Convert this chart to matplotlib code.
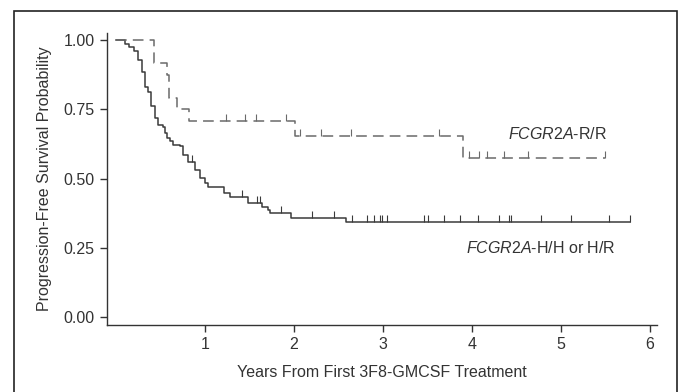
import matplotlib
matplotlib.use("Agg")
import matplotlib.pyplot as plt
from matplotlib.patches import Rectangle

plt.rcParams['font.family'] = ['Liberation Sans', 'DejaVu Sans']
plt.rcParams['mathtext.fontset'] = 'custom'
plt.rcParams['mathtext.rm'] = 'Liberation Sans'
plt.rcParams['mathtext.it'] = 'Liberation Sans:italic'

# FCGR2A-H/H or H/R (solid) : event times (years) and survival after each drop
hh_times = [0.0, 0.10, 0.15, 0.20, 0.25, 0.29, 0.33, 0.36, 0.40, 0.44, 0.47, 0.53, 0.55,
            0.58, 0.61, 0.64, 0.72, 0.76, 0.81, 0.89, 0.94, 1.00, 1.04, 1.21, 1.28,
            1.49, 1.64, 1.71, 1.73, 1.97, 2.58, 5.78]
hh_surv = [1.0, 0.986, 0.975, 0.960, 0.928, 0.886, 0.832, 0.814, 0.760, 0.719, 0.694, 0.686, 0.665,
           0.647, 0.634, 0.622, 0.616, 0.586, 0.561, 0.532, 0.503, 0.485, 0.469, 0.448, 0.433,
           0.412, 0.399, 0.387, 0.375, 0.360, 0.343, 0.343]
hh_cens = [0.85, 1.42, 1.59, 1.62, 1.85, 2.20, 2.45, 2.65, 2.82, 2.90, 2.97, 2.99, 3.05,
           3.46, 3.51, 3.69, 3.87, 4.07, 4.30, 4.42, 4.44, 4.78, 5.11, 5.54, 5.78]

# FCGR2A-R/R (dashed)
rr_times = [0.0, 0.43, 0.57, 0.60, 0.69, 0.82, 2.01, 3.90, 5.49]
rr_surv = [1.0, 0.917, 0.875, 0.792, 0.750, 0.708, 0.655, 0.576, 0.576]
rr_cens = [1.24, 1.45, 1.58, 1.91, 2.07, 2.31, 2.64, 3.63, 3.97, 4.08, 4.17, 4.36, 4.63, 5.49]

x_ticks = [1, 2, 3, 4, 5, 6]
y_ticks = [0.0, 0.25, 0.5, 0.75, 1.0]
y_ticklabels = ["0.00", "0.25", "0.50", "0.75", "1.00"]


def surv_at(times, surv, t):
    s = surv[0]
    for tt, ss in zip(times, surv):
        if tt <= t:
            s = ss
    return s


fig = plt.figure(figsize=(6.81, 3.92), dpi=100)
ax = fig.add_axes([0.157, 0.171, 0.808, 0.745])

txt = '#333333'
ax.step(hh_times, hh_surv, where='post', color='#3a3a3a', lw=1.1)
ax.plot(hh_cens, [surv_at(hh_times, hh_surv, t) for t in hh_cens], linestyle='none',
        marker=2, markersize=5, markeredgewidth=0.8, color='#3a3a3a')

ax.step(rr_times, rr_surv, where='post', color='#6a6a6a', lw=1.1, linestyle=(0, (7, 4)))
ax.plot(rr_cens, [surv_at(rr_times, rr_surv, t) for t in rr_cens], linestyle='none',
        marker=2, markersize=5, markeredgewidth=0.8, color='#6a6a6a')

ax.set_xlim(-0.10, 6.08)
ax.set_ylim(-0.027, 1.025)
ax.set_xticks(x_ticks)
ax.set_yticks(y_ticks)
ax.set_yticklabels(y_ticklabels)
for s in ['top', 'right']:
    ax.spines[s].set_visible(False)
for s in ['left', 'bottom']:
    ax.spines[s].set_color('#333333')
    ax.spines[s].set_linewidth(1.0)
ax.tick_params(axis='both', direction='out', length=5, width=1.0, colors='#333333',
               labelsize=11.5, labelcolor=txt, pad=4)

ax.set_ylabel('Progression-Free Survival Probability', fontsize=11.5, color=txt, labelpad=8)
ax.set_xlabel('Years From First 3F8-GMCSF Treatment', fontsize=11.5, color=txt, labelpad=9)

ax.text(4.41, 0.66, r'$\mathit{FCGR2A}$-R/R', fontsize=11.5, color=txt, va='center', ha='left')
ax.text(3.93, 0.25, r'$\mathit{FCGR2A}$-H/H or H/R', fontsize=11.5, color=txt, va='center', ha='left')

fig.add_artist(Rectangle((14 / 681, -0.05), (677 - 14) / 681, 1 - 11 / 392 + 0.05,
                         transform=fig.transFigure, fill=False, edgecolor='#222222', lw=1.2))

fig.savefig('out.png', dpi=100)
